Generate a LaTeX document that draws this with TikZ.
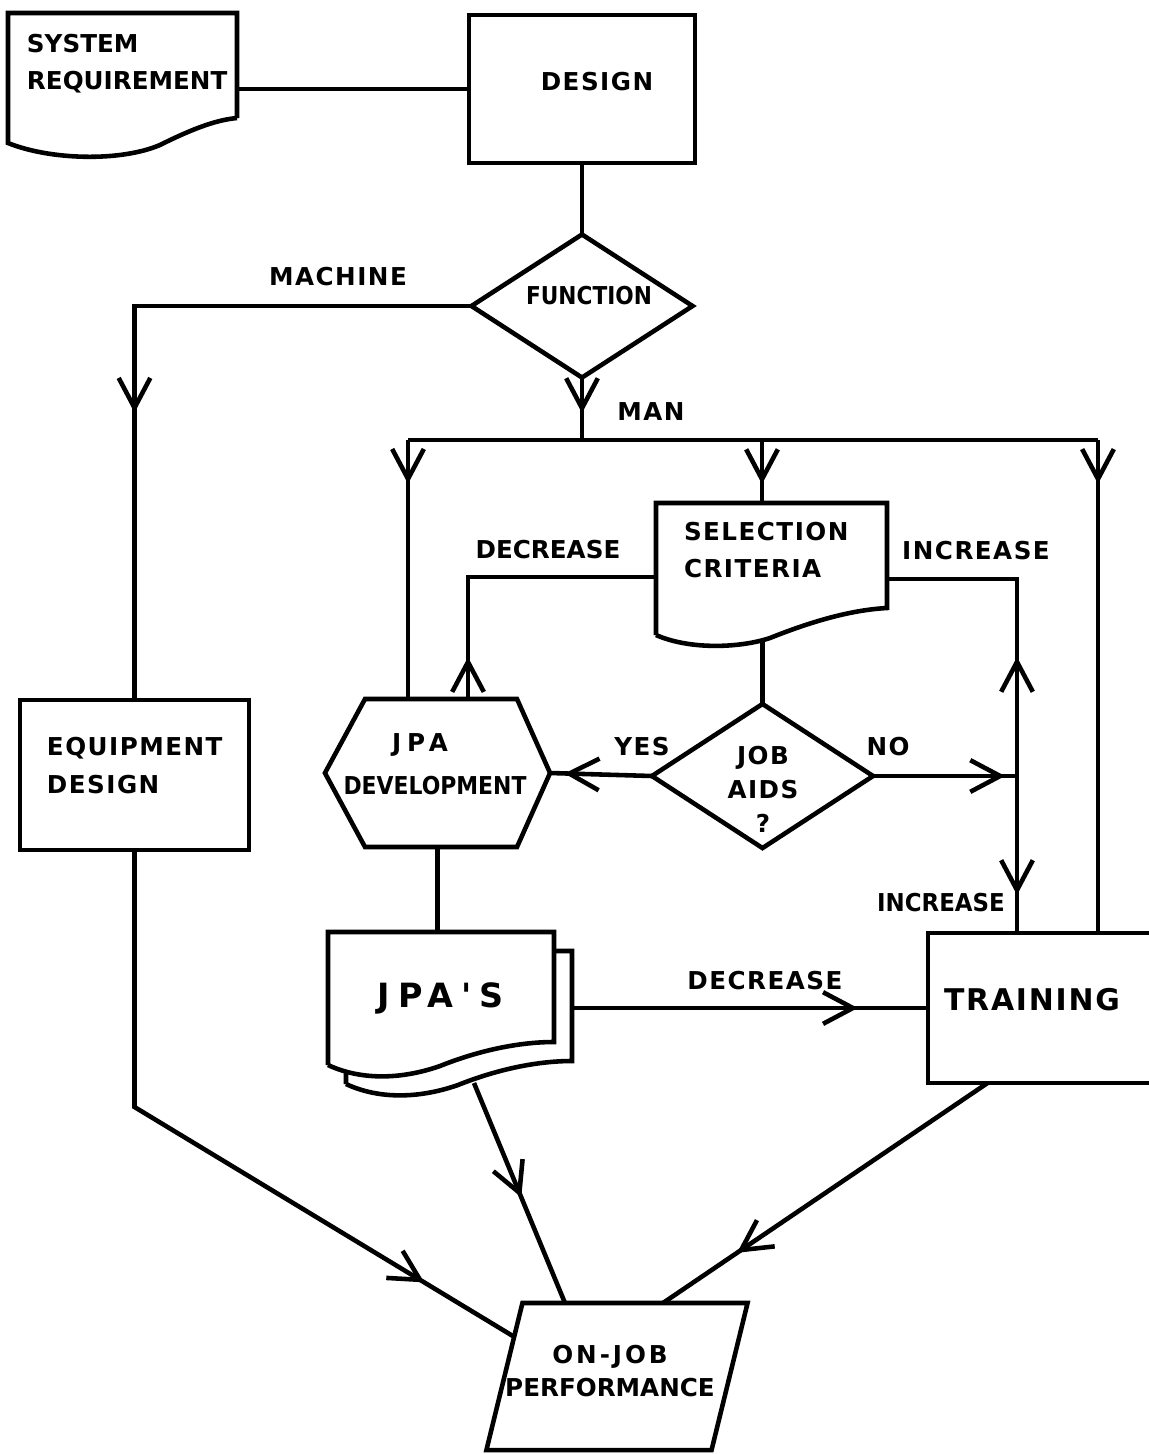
\documentclass[tikz,border=0pt]{standalone}
\usepackage{graphicx}
\usepackage{fontspec}
\newfontfamily\hand[LetterSpace=6]{DejaVu Sans}
\newfontfamily\handc[LetterSpace=0]{DejaVu Sans}
\newfontfamily\handw[LetterSpace=24]{DejaVu Sans}
\usetikzlibrary{shapes.geometric,arrows.meta,decorations.markings,calc}
\begin{document}
\begin{tikzpicture}[x=0.01cm,y=-0.01cm,
  line width=1.3pt,
  every node/.style={inner sep=0pt, outer sep=0pt},
  shapebox/.style 2 args={minimum width=#1, minimum height=#2},
  lbl/.style={font=\hand\bfseries\fontsize{7}{10.6}\selectfont},
  lblc/.style={font=\handc\bfseries\fontsize{#1}{10.6}\selectfont},
  lblw/.style={font=\handw\bfseries\fontsize{#1}{11}\selectfont},
  ma/.style={postaction={decorate,decoration={markings,mark=at position #1 with {\arrow{Straight Barb[length=8.5pt,width=9pt]}}}}},
]
\useasboundingbox (0,0) rectangle (1149,1454);

% ---------- shapes ----------
% system requirement (document)
\node[shapebox={2.29cm}{1.30cm}] (sr) at (122.5,78) {};
\draw (237,118) -- (237,13) -- (8,13) -- (8,143) .. controls (50,160) and (120,162) .. (160,145) .. controls (190,130) and (215,120) .. (237,118);
\node[lblc=7, align=left, anchor=west] (srt) at (27,64) {SYSTEM\\REQUIREMENT};

% design
\node[draw, shapebox={2.26cm}{1.48cm}] (design) at (582,89) {};
\node[lbl] (designt) at (597,82) {DESIGN};

% function decision
\node[draw, diamond, shapebox={2.21cm}{1.43cm}] (function) at (582,306) {};
\node[lblc=7] (functiont) at (589,296) {\scalebox{0.88}[1]{FUNCTION}};

% equipment design
\node[draw, shapebox={2.29cm}{1.50cm}] (equip) at (134.5,775) {};
\node[lbl, align=left, anchor=west] (equipt) at (47,765.5) {EQUIPMENT\\DESIGN};

% selection criteria (document)
\node[shapebox={2.31cm}{1.37cm}] (sc) at (771.5,571.5) {};
\draw (656,635) -- (656,503) -- (887,503) -- (887,608) .. controls (850,610) and (810,622) .. (770,638) .. controls (740,648) and (690,650) .. (656,635);
\node[lbl, align=left, anchor=west] (sct) at (684,550) {SELECTION\\CRITERIA};

% job aids decision
\node[draw, diamond, shapebox={2.21cm}{1.44cm}] (jobaids) at (762.5,776) {};
\node[align=center, font=\hand\bfseries\fontsize{7}{9.7}\selectfont] (jobaidst) at (763,789) {JOB\\AIDS\\?};

% JPA development (hexagon)
\node[shapebox={2.25cm}{1.48cm}] (jpad) at (437.5,773) {};
\draw (jpad.west) -- (365,699) -- (517,699) -- (jpad.east) -- (517,847) -- (365,847) -- cycle;
\node[lblw=7] (jpadt1) at (420,745) {JPA};
\node[lblc=7] (jpadt2) at (435,786) {\scalebox{0.89}[1]{DEVELOPMENT}};

% JPA'S (multiple documents)
\node[shapebox={2.26cm}{1.33cm}] (jpasb) at (459,1017.5) {};
\draw[fill=white] (346,1084) -- (346,951) -- (572,951) -- (572,1061) .. controls (538,1061) and (498,1069) .. (458,1085) .. controls (418,1099) and (378,1099) .. (346,1084);
\node[shapebox={2.26cm}{1.33cm}] (jpas) at (441,998.5) {};
\draw[fill=white] (328,1065) -- (328,932) -- (554,932) -- (554,1042) .. controls (520,1042) and (480,1050) .. (440,1066) .. controls (400,1080) and (360,1080) .. (328,1065);
\node[lblw=9.5] (jpast) at (441,998) {JPA'S};

% training (its right side lies beyond the page edge)
\node[shapebox={2.21cm}{1.50cm}] (training) at (1038.5,1008) {};
\draw (training.north east) -- (training.north west) -- (training.south west) -- (training.south east);
\node[font=\hand\bfseries\fontsize{8.5}{11}\selectfont] (trainingt) at (1032,1000) {TRAINING};

% on-job performance (parallelogram)
\node[shapebox={2.25cm}{1.47cm}] (onjob) at (617,1376.5) {};
\coordinate (ojTL) at ([xshift=0.18cm]onjob.north west);
\coordinate (ojTR) at ([xshift=0.18cm]onjob.north east);
\coordinate (ojBR) at ([xshift=-0.18cm]onjob.south east);
\coordinate (ojBL) at ([xshift=-0.18cm]onjob.south west);
\draw (ojTL) -- (ojTR) -- (ojBR) -- (ojBL) -- cycle;
\node[align=center, font=\handc\bfseries\fontsize{7}{9.4}\selectfont] (onjobt) at (610,1371) {{\addfontfeature{LetterSpace=12}ON-JOB}\\PERFORMANCE};

% ---------- connectors ----------
\draw (design.west -| sr.east) -- (design.west);
\draw (design.south) -- (function.north);
\draw[ma=0.607] (function.west) -| (equip.north);
\coordinate (man) at (582,440);
\draw[ma=0.568] (function.south) -- (man);
\coordinate (busL) at (408,440);
\coordinate (busM) at (762,440);
\coordinate (busR) at (1098,440);
\draw (busL) -- (busR);
\draw[ma=0.169] (busL) -- (busL |- jpad.north);
\draw[ma=0.70] (busM) -- (busM |- sc.north);
\draw[ma=0.089] (busR) -- (busR |- training.north);

\coordinate (decC) at (468,577);
\draw[ma=0.135] (decC |- jpad.north) -- (decC) -- (sc.west |- decC);
\draw (jobaids.north |- sc.south) -- (jobaids.north);
\coordinate (incC) at (1017,579);
\coordinate (noC) at (1017,776);
\draw[ma=0.364] (noC) -- (incC) -- (sc.east |- incC);
\draw[ma=0.758] (noC) -- (noC |- training.north);
\draw[ma=0.917] (jobaids.east) -- (noC);
\draw[ma=0.86] (jobaids.west) -- (jpad.east);

\draw (jpad.south) -- (jpad.south |- jpas.north);
\draw[ma=0.803] (jpasb.east |- training.west) -- (training.west);

\coordinate (eqc) at (134.5,1107);
\coordinate (ojL) at ($(ojTL)!0.23!(ojBL)$);
\draw[ma=0.85] (equip.south) -- (eqc) -- (ojL);
\coordinate (jpbot) at (474,1083);
\draw[ma=0.52] (jpbot) -- ([xshift=-0.52cm]onjob.north);
\coordinate (trb) at ([xshift=-0.51cm]training.south);
\draw[ma=0.773] (trb) -- ([xshift=0.46cm]onjob.north);

% ---------- connector labels ----------
\node[lbl] (lmachine) at (338,277) {MACHINE};
\node[lbl] (lman) at (651,412) {MAN};
\node[lblc=7] (ldec1) at (548,550) {DECREASE};
\node[lbl] (linc1) at (976,551) {INCREASE};
\node[lbl] (lyes) at (642,747) {YES};
\node[lbl] (lno) at (888,747) {NO};
\node[lblc=7] (linc2) at (941,903) {\scalebox{0.93}[1]{INCREASE}};
\node[lbl] (ldec2) at (765,981) {DECREASE};
\end{tikzpicture}
\end{document}
